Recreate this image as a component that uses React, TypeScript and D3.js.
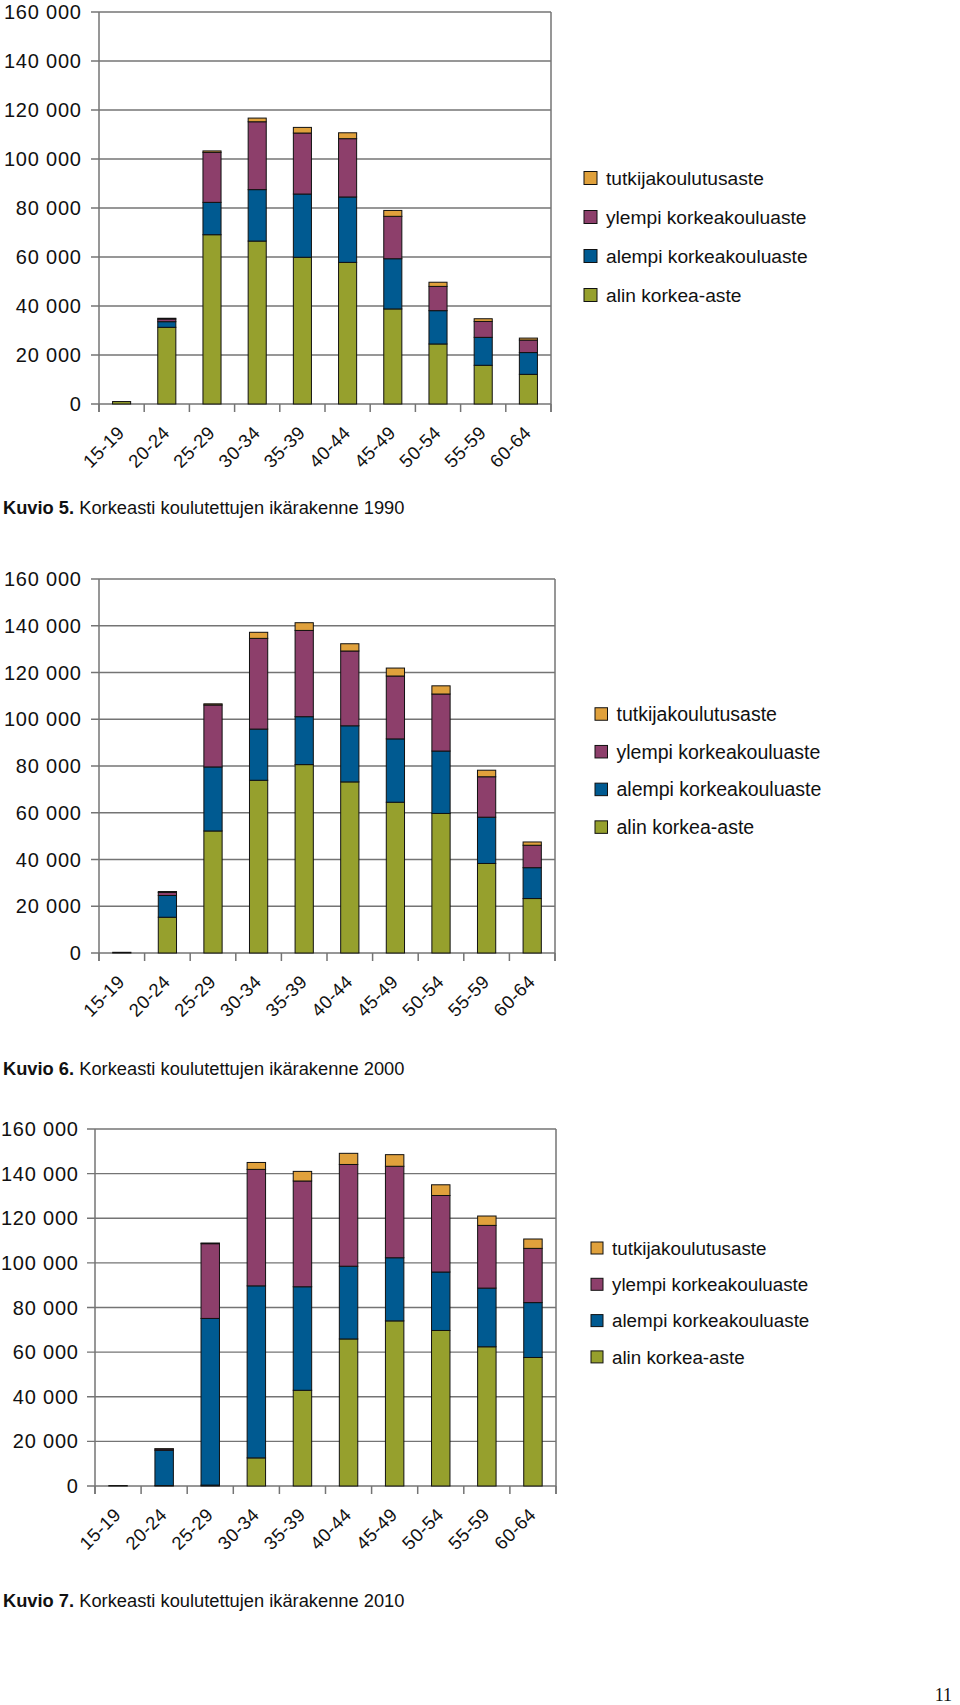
import React from 'react';
import * as d3 from 'd3';

const categories = ['15-19', '20-24', '25-29', '30-34', '35-39', '40-44', '45-49', '50-54', '55-59', '60-64'];
const seriesNames = ['alin korkea-aste', 'alempi korkeakouluaste', 'ylempi korkeakouluaste', 'tutkijakoulutusaste'];
const seriesColors = ['#96a02d', '#005a91', '#8d3f6b', '#e0a13c'];
const yTicks = [0, 20000, 40000, 60000, 80000, 100000, 120000, 140000, 160000];

// 1990
const alin1990 = [1000, 31300, 69100, 66500, 59900, 57800, 38800, 24500, 15800, 12100];
const alempi1990 = [0, 2300, 13200, 21000, 25800, 26700, 20500, 13600, 11400, 8900];
const ylempi1990 = [0, 1100, 20400, 27700, 24900, 23800, 17300, 9900, 6500, 5100];
const tutkija1990 = [0, 300, 600, 1500, 2300, 2400, 2400, 1700, 1100, 800];

// 2000
const alin2000 = [300, 15300, 52200, 73900, 80600, 73200, 64500, 59700, 38300, 23300];
const alempi2000 = [0, 9300, 27400, 21900, 20500, 24000, 27100, 26700, 19800, 13200];
const ylempi2000 = [0, 1300, 26500, 38800, 36900, 32000, 26900, 24400, 17300, 9600];
const tutkija2000 = [0, 400, 500, 2600, 3300, 3100, 3400, 3500, 2800, 1400];

// 2010
const alin2010 = [200, 200, 400, 12600, 42900, 65900, 74000, 69700, 62400, 57600];
const alempi2010 = [0, 15800, 74700, 77100, 46400, 32600, 28300, 26200, 26300, 24600];
const ylempi2010 = [0, 600, 33500, 52200, 47400, 45600, 41000, 34300, 28100, 24300];
const tutkija2010 = [0, 100, 300, 3100, 4300, 5000, 5200, 4800, 4200, 4200];

const captionBold = ['Kuvio 5.', 'Kuvio 6.', 'Kuvio 7.'];
const captionText = [
  'Korkeasti koulutettujen ikärakenne 1990',
  'Korkeasti koulutettujen ikärakenne 2000',
  'Korkeasti koulutettujen ikärakenne 2010',
];

const charts = [
  { series: [alin1990, alempi1990, ylempi1990, tutkija1990], left: 99, right: 551, top: 12, bottom: 404, lx: 584, ly: 178, lstep: 39, sq: 13, lfont: 19.2, capY: 514, labelRight: 81 },
  { series: [alin2000, alempi2000, ylempi2000, tutkija2000], left: 99, right: 555, top: 579, bottom: 953, lx: 595, ly: 714, lstep: 37.7, sq: 12.5, lfont: 19.5, capY: 1075, labelRight: 81 },
  { series: [alin2010, alempi2010, ylempi2010, tutkija2010], left: 95, right: 556, top: 1129, bottom: 1486, lx: 591, ly: 1248, lstep: 36.3, sq: 12, lfont: 18.8, capY: 1607, labelRight: 78 },
];

const FONT = "'Liberation Sans', Arial, Helvetica, sans-serif";
const GRID = '#747474';
const fmt = (v: number) => d3.format(',')(v).replace(/,/g, ' ');

function Chart({ cfg, idx }: { cfg: any; idx: number }) {
  const x = d3.scaleBand<string>().domain(categories).range([cfg.left, cfg.right]).paddingInner(0.6).paddingOuter(0.3);
  const y = d3.scaleLinear().domain([0, 160000]).range([cfg.bottom, cfg.top]);
  const rows = categories.map((c, i) => {
    const o: any = { cat: c };
    seriesNames.forEach((s, k) => (o[s] = cfg.series[k][i]));
    return o;
  });
  const stacked = d3.stack<any>().keys(seriesNames)(rows);
  const step = x.step();
  const boundaries = d3.range(categories.length + 1).map((i) => cfg.left + i * step);
  return (
    <g>
      {yTicks.map((t) => (
        <g key={t}>
          <line x1={cfg.left - 8} x2={cfg.right} y1={y(t)} y2={y(t)} stroke={GRID} strokeWidth={1.3} />
          <text x={cfg.labelRight + 0.8} y={y(t)} dy="0.35em" textAnchor="end" fontSize={20} letterSpacing={0.8} fontFamily={FONT} fill="#111">
            {fmt(t)}
          </text>
        </g>
      ))}
      <line x1={cfg.left} x2={cfg.left} y1={cfg.top} y2={cfg.bottom + 8} stroke={GRID} strokeWidth={1.5} />
      <line x1={cfg.right} x2={cfg.right} y1={cfg.top} y2={cfg.bottom + 8} stroke={GRID} strokeWidth={1.5} />
      {boundaries.map((b, i) => (
        <line key={i} x1={b} x2={b} y1={cfg.bottom} y2={cfg.bottom + 8} stroke={GRID} strokeWidth={1.5} />
      ))}
      {stacked.map((layer, k) => (
        <g key={k}>
          {layer.map((d: any, i: number) => {
            const h = y(d[0]) - y(d[1]);
            if (h <= 0) return null;
            return (
              <rect key={i} x={x(categories[i])} width={x.bandwidth()} y={y(d[1])} height={h}
                fill={seriesColors[k]} stroke="#111" strokeWidth={1} />
            );
          })}
        </g>
      ))}
      {categories.map((c) => {
        const cx = (x(c) as number) + x.bandwidth() / 2;
        return (
          <text key={c} transform={`translate(${cx + 4},${cfg.bottom + 30}) rotate(-45)`} textAnchor="end"
            fontSize={18.5} letterSpacing={0.4} fontFamily={FONT} fill="#111">
            {c}
          </text>
        );
      })}
      {seriesNames.slice().reverse().map((s, j) => {
        const k = seriesNames.length - 1 - j;
        const cy = cfg.ly + j * cfg.lstep;
        return (
          <g key={s}>
            <rect x={cfg.lx} y={cy - cfg.sq / 2} width={cfg.sq} height={cfg.sq} fill={seriesColors[k]} stroke="#111" strokeWidth={1} />
            <text x={cfg.lx + cfg.sq + 9} y={cy} dy="0.36em" fontSize={cfg.lfont} fontFamily={FONT} fill="#111">{s}</text>
          </g>
        );
      })}
      <text x={3} y={cfg.capY} fontSize={18.3} fontFamily={FONT} fill="#111">
        <tspan fontWeight="bold">{captionBold[idx]}</tspan> {captionText[idx]}
      </text>
    </g>
  );
}

export default function App() {
  return (
    <svg width={960} height={1705} style={{ position: 'absolute', left: 0, top: 0, background: '#fff' }}>
      <rect width={960} height={1705} fill="#fff" />
      {charts.map((c, i) => (
        <Chart key={i} cfg={c} idx={i} />
      ))}
      <text x={952} y={1701} textAnchor="end" fontSize={18} fontFamily="'Liberation Serif', 'DejaVu Serif', serif" fill="#111">11</text>
    </svg>
  );
}
